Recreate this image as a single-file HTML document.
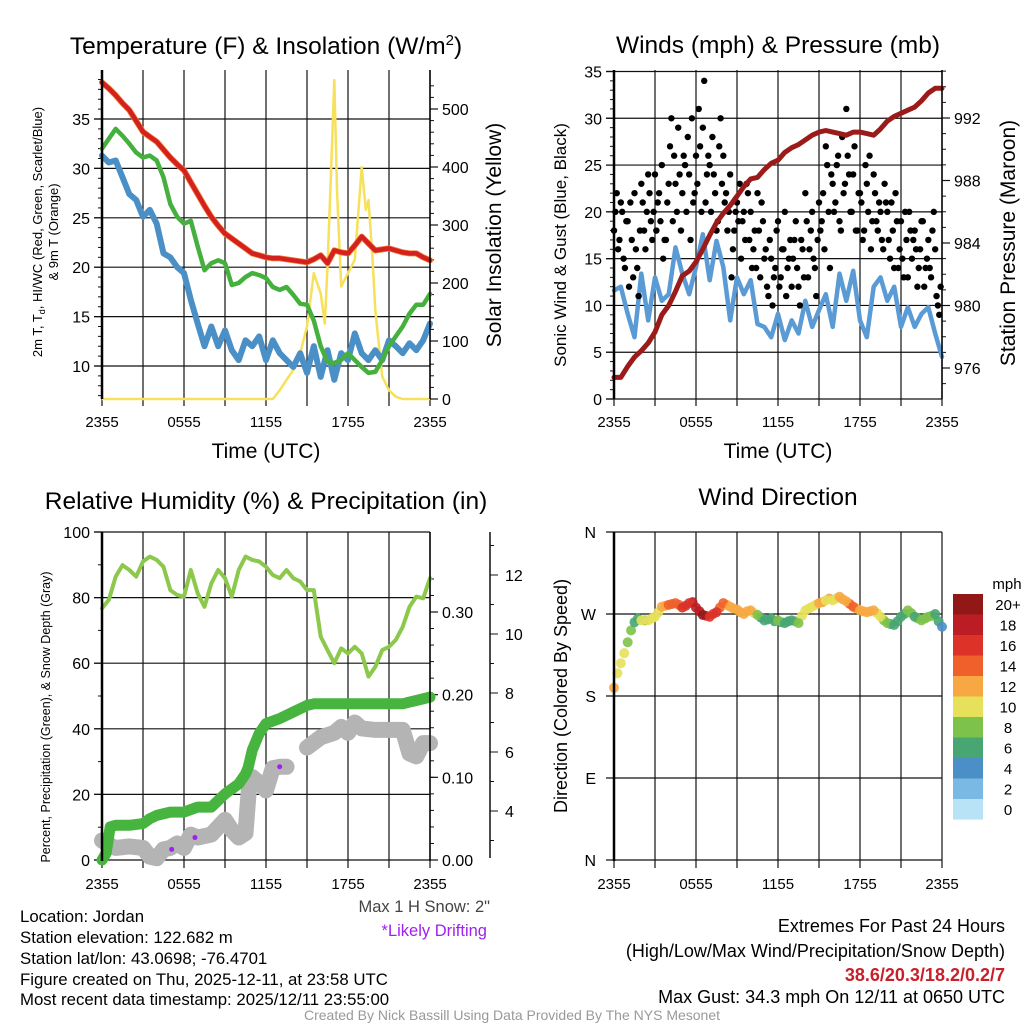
<!DOCTYPE html>
<html><head><meta charset="utf-8"><style>
body{margin:0;background:#fff;}
svg{display:block;font-family:"Liberation Sans",sans-serif;}
</style></head><body>
<svg id="fig" width="1024" height="1024" viewBox="0 0 1024 1024" xmlns="http://www.w3.org/2000/svg">
<rect width="1024" height="1024" fill="#fff"/>
<g id="g"></g>
<text x="266" y="54" font-size="24.5" text-anchor="middle">Temperature (F) &amp; Insolation (W/m<tspan dy="-9" font-size="15">2</tspan><tspan dy="9">)</tspan></text>
<text x="778" y="53" font-size="24.5" text-anchor="middle">Winds (mph) &amp; Pressure (mb)</text>
<text x="266" y="509" font-size="24.5" text-anchor="middle">Relative Humidity (%) &amp; Precipitation (in)</text>
<text x="778" y="505" font-size="24.5" text-anchor="middle">Wind Direction</text>
<text x="266" y="458" font-size="21" text-anchor="middle">Time (UTC)</text>
<text x="778" y="458" font-size="21" text-anchor="middle">Time (UTC)</text>
<text transform="translate(42,232) rotate(-90)" font-size="13" text-anchor="middle">2m T, T<tspan font-size="9" dy="3">d</tspan><tspan dy="-3">, HI/WC (Red, Green, Scarlet/Blue)</tspan></text>
<text transform="translate(58,232) rotate(-90)" font-size="13" text-anchor="middle">&amp; 9m T (Orange)</text>
<text transform="translate(501,235) rotate(-90)" font-size="21" text-anchor="middle">Solar Insolation (Yellow)</text>
<text transform="translate(566,245) rotate(-90)" font-size="17" text-anchor="middle">Sonic Wind &amp; Gust (Blue, Black)</text>
<text transform="translate(1015,243) rotate(-90)" font-size="21" text-anchor="middle">Station Pressure (Maroon)</text>
<text transform="translate(50,717) rotate(-90)" font-size="12.5" text-anchor="middle">Percent, Precipitation (Green), &amp; Snow Depth (Gray)</text>
<text transform="translate(567,696) rotate(-90)" font-size="18" text-anchor="middle">Direction (Colored By Speed)</text>
<text x="1007" y="589" font-size="15" text-anchor="middle">mph</text>
<text x="490" y="912" font-size="16.5" text-anchor="end" fill="#444">Max 1 H Snow: 2"</text>
<text x="487" y="936" font-size="16.5" text-anchor="end" fill="#a020f0">*Likely Drifting</text>
<g font-size="16.8">
<text x="20" y="922">Location: Jordan</text>
<text x="20" y="943">Station elevation: 122.682 m</text>
<text x="20" y="964">Station lat/lon: 43.0698; -76.4701</text>
<text x="20" y="985">Figure created on Thu, 2025-12-11, at 23:58 UTC</text>
<text x="20" y="1005">Most recent data timestamp: 2025/12/11 23:55:00</text>
</g>
<g font-size="18" text-anchor="end">
<text x="1005" y="932">Extremes For Past 24 Hours</text>
<text x="1005" y="957">(High/Low/Max Wind/Precipitation/Snow Depth)</text>
<text x="1005" y="981" fill="#c8202a" font-weight="bold">38.6/20.3/18.2/0.2/7</text>
<text x="1005" y="1003">Max Gust: 34.3 mph On 12/11 at 0650 UTC</text>
</g>
<text x="512" y="1020" font-size="14" fill="#999" text-anchor="middle">Created By Nick Bassill Using Data Provided By The NYS Mesonet</text>
</svg>
<script>
const halfHours = Array.from({length:49},(_, i)=>i*0.5);
const quarterOffsets = Array.from({length:48},(_, i)=>i*0.5+0.25);
const tempRed = [38.7,38.1,37.4,36.6,35.9,34.8,33.7,33.2,32.7,31.9,31.1,30.4,29.8,28.6,27.4,26.2,25.1,24.2,23.4,22.9,22.4,21.9,21.4,21.2,21.0,20.9,20.9,20.8,20.7,20.6,20.5,20.8,21.2,20.4,21.7,21.5,21.4,22.2,23.1,22.4,21.7,21.8,21.9,21.7,21.5,21.4,21.4,21.0,20.7];
const tempGreen = [32.0,33.0,34.0,33.3,32.5,31.6,31.1,31.3,30.8,29.1,26.4,25.1,24.4,24.7,22.1,19.7,20.4,20.7,20.4,18.2,18.4,19.0,19.4,19.2,18.9,18.0,17.7,18.0,17.2,16.3,16.2,14.6,12.0,10.4,10.3,10.6,11.3,10.6,9.9,9.3,9.4,10.6,12.0,13.0,14.0,15.3,16.2,16.2,17.3];
const tempBlue = [31.3,30.6,30.8,29.1,27.4,26.8,25.1,25.8,24.4,21.4,21.0,20.0,19.4,16.7,14.3,12.0,14.0,12.0,13.6,11.6,10.6,12.6,12.0,13.0,10.6,12.6,11.3,10.6,9.9,11.3,9.3,12.0,8.9,11.6,8.6,11.3,10.6,13.3,11.3,10.6,11.6,10.6,12.6,12.0,11.3,12.3,11.6,12.6,14.3];
const solarTimes = [0,12.5,13,13.5,14,14.5,15,15.5,16,16.3,16.5,16.8,17,17.2,17.5,18,18.5,19,19.3,19.5,19.8,20,20.5,21,21.5,22,24];
const solarVals = [0,0,15,33,50,79,125,217,182,130,228,418,550,355,194,217,240,400,326,343,240,153,39,15,4,0,0];
const windSonic = [11.6,12.0,9.1,6.6,13.4,8.4,13.0,10.5,11.2,16.2,13.4,11.2,14.1,17.6,12.7,16.9,14.1,8.4,13.0,11.2,12.7,8.0,7.7,6.6,9.1,6.3,8.4,7.0,10.5,7.7,9.5,11.2,7.7,13.4,10.5,13.7,8.4,6.6,12.0,13.0,10.5,12.0,7.7,9.8,7.7,9.1,9.8,7.0,4.5];
const pressure = [975.4,975.4,976.1,976.7,977.1,977.6,978.3,979.4,980.0,980.9,981.9,982.2,982.8,983.6,984.5,985.3,985.9,986.4,987.0,987.6,988.1,988.2,988.7,989.1,989.3,989.8,990.1,990.3,990.6,990.9,991.1,991.2,991.1,991.0,990.9,991.1,991.1,991.0,990.9,991.3,991.8,992.1,992.3,992.5,992.7,993.1,993.6,993.9,993.9];
const gustA = [18,22,17,20,14,19,21,13,16,11,23,18,20,22,17,24,21,19,15,17,23,30,26,20,24,22,25,28,17,21,26,31,20,34,24,25,28,22,19,30,26,22,20,13,18,21,23,19,17,22,20,16,14,18,21,15,12,17,10,14,19,13,16,11,15,12,17,14,10,16,22,13,18,15,11,21,19,16,25,14,23,21,26,18,22,31,24,20,27,18,22,17,25,20,16,24,19,21,17,23,20,15,18,22,14,19,13,17,20,15,18,12,16,19,14,17,13,20,11,9];
const gustB = [20,16,21,15,19,12,17,22,14,18,21,16,24,19,20,18,22,25,17,21,27,19,23,29,18,26,20,24,30,22,23,27,29,21,26,20,24,18,27,23,21,18,24,16,20,19,15,20,23,17,14,18,22,13,19,16,11,15,13,18,12,16,20,14,17,15,19,12,17,13,19,16,20,14,17,18,22,27,20,24,20,25,19,28,23,26,20,24,18,22,21,18,23,26,19,22,18,20,16,21,17,21,14,19,16,15,20,13,18,17,16,14,19,12,15,14,18,16,10,12];
const gustStep = 0.2;
const rh = [76.7,79.3,86.4,89.9,88.4,86.4,91.0,92.5,91.5,89.4,82.3,80.8,80.3,88.4,81.3,77.2,84.3,88.4,85.9,80.3,88.4,92.5,91.5,91.0,89.4,86.9,85.9,88.4,85.9,84.9,82.3,82.3,68.1,64.0,60.0,64.5,63.0,65.0,63.0,55.9,58.9,64.0,65.0,67.1,71.1,77.2,80.3,79.8,85.9];
const precipTimes = [0,0.3,0.6,1,2,3,3.5,4,5,6,7,8,8.5,9,9.5,10,10.5,10.7,11,11.5,12,13,14,15,15.5,22,22.5,23,24];
const precipVals = [0,0.008,0.040,0.042,0.042,0.044,0.050,0.054,0.058,0.058,0.064,0.064,0.072,0.080,0.086,0.092,0.104,0.112,0.133,0.153,0.165,0.171,0.179,0.187,0.189,0.189,0.191,0.193,0.197];
const snowTimes = [0,0.5,1,2,3,3.5,4,4.5,5,5.5,6,6.5,7,7.5,8,8.5,9,9.5,10,10.5,10.8,11,11.5,12,12.5,13,13.5,14,15,16,17,17.5,18,18.5,19,20,21,22,22.5,23,23.5,24];
const snowVals = [3.0,2.85,2.75,2.8,2.75,2.45,2.4,2.7,2.75,2.9,2.75,3.2,3.1,3.15,3.2,3.45,3.7,3.35,3.1,3.25,5.05,5.15,4.95,4.7,5.45,5.5,5.5,null,6.15,6.5,6.65,6.85,6.65,7.0,6.8,6.75,6.75,6.75,5.95,5.85,6.3,6.3];
const driftTimes = [5.1,6.8,13.0];
const driftVals = [2.7,3.1,5.5];
const dirVals = [189,216,239,261,263,263,267,278,280,282,277,282,277,269,267,272,282,278,275,270,274,269,263,265,263,260,263,260,274,278,282,285,285,289,284,278,274,272,274,267,260,258,267,274,267,263,267,270,256];
const dirSpeeds = [12,11,9,7,10,10,10,12,14,15,16,17,18,20,17,16,14,13,12,12,13,8,7,7,8,6,7,9,10,11,12,11,10,12,13,14,12,13,12,11,8,7,6,8,7,9,8,7,4];
const dirValsB = [205,227,252,265,263,265,272,279,281,280,279,283,273,268,270,277,280,276,272,273,271,266,264,262,261,262,262,268,276,280,283,287,287,286,281,276,273,273,271,263,259,262,270,271,265,265,268,262];
const dirSpeedsB = [11,10,8,7,9,10,11,13,15,15,17,18,19,16,16,15,13,12,13,12,10,7,7,6,7,7,8,10,10,11,12,12,11,13,14,13,12,13,11,9,7,6,7,8,8,9,8,6];
const cbLabels = ["20+","18","16","14","12","10","8","6","4","2","0"];
const cbColors = ["#921818","#bc1c24","#dc3228","#f0602a","#f7a843","#e6e05a","#7dc24a","#48a673","#4a8fc6","#7ab9e4","#b8e2f6"];
const timeLabels = ["2355","0555","1155","1755","2355"];

const NS="http://www.w3.org/2000/svg";
const G=document.getElementById('g');
function mk(tag,attrs,parent){const e=document.createElementNS(NS,tag);for(const k in attrs)e.setAttribute(k,attrs[k]);(parent||G).appendChild(e);return e;}
function txt(x,y,s,size,anchor,parent){const t=mk('text',{x:x,y:y,'font-size':size,'text-anchor':anchor},parent);t.textContent=s;return t;}
function lin(d0,d1,p0,p1){return v=>p0+(v-d0)*(p1-p0)/(d1-d0);}
function pathFrom(xs,ys,sx,sy){let d='',pen=false;for(let i=0;i<xs.length;i++){if(ys[i]===null){pen=false;continue;}d+=(pen?'L':'M')+sx(xs[i]).toFixed(1)+','+sy(ys[i]).toFixed(1);pen=true;}return d;}
function speedColor(s){const idx=Math.min(10,Math.floor(s/2));return cbColors[10-idx];}

function frame(px,py,name){
  const grp=mk('g',{});
  
  
  for(let i=0;i<=8;i++){const x=px+i*41;mk('line',{x1:x,y1:py,x2:x,y2:py+328,stroke:'#111','stroke-width':1.2},grp);mk('line',{x1:x,y1:py+328,x2:x,y2:py+336,stroke:'#111','stroke-width':1.2},grp);}
  const xl=mk('g',{});
  
  
  timeLabels.forEach((s,i)=>txt(px+i*82,py+357,s,15,'middle',xl));
  return grp;
}
function hgrid(grp,px,ys){ys.forEach(y=>mk('line',{x1:px-8,y1:y,x2:px+328,y2:y,stroke:'#111','stroke-width':1.2},grp));}
function axisLabels(name,x,vals,sy,anchor,tickDir){
  const g=mk('g',{});
  
  
  vals.forEach(v=>{const y=sy(v);mk('line',{x1:x,y1:y,x2:x+tickDir*8,y2:y,stroke:'#111','stroke-width':1.2},g);txt(x+tickDir*12,y+6,String(v.label!==undefined?v.label:v),16,anchor,g);});
  return g;
}

/* ---------- Panel 1: temperature ---------- */
{
  const px=102,py=70;
  const sx=lin(0,24,px,px+328), sy=lin(10,35,366,119), ss=lin(0,500,399,109);
  const grp=frame(px,py,'temp');
  hgrid(grp,px,[10,15,20,25,30,35].map(sy));
  for(let v=7;v<=39;v++){if(v%5)mk('line',{x1:px-4,y1:sy(v),x2:px,y2:sy(v),stroke:'#111'},grp);}
  for(let v=0;v<=550;v+=20){mk('line',{x1:px+328,y1:ss(v),x2:px+332,y2:ss(v),stroke:'#111'},grp);}
  axisLabels('temp-y-tick-labels',px,[10,15,20,25,30,35],sy,'end',-1);
  axisLabels('solar-y-tick-labels',px+328,[0,100,200,300,400,500],ss,'start',1);
  const sol=mk('path',{d:pathFrom(solarTimes,solarVals,sx,ss),fill:'none',stroke:'#f7e15a','stroke-width':2.5,'stroke-linejoin':'round'});
  
  
  const b=mk('path',{d:pathFrom(halfHours,tempBlue,sx,sy),fill:'none',stroke:'#4a8fc6','stroke-width':6,'stroke-linejoin':'round','stroke-linecap':'round'});
  
  
  const gr=mk('path',{d:pathFrom(halfHours,tempGreen,sx,sy),fill:'none',stroke:'#46b03e','stroke-width':4.5,'stroke-linejoin':'round','stroke-linecap':'round'});
  
  
  const o=mk('path',{d:pathFrom(halfHours,tempRed,sx,sy),fill:'none',stroke:'#f08030','stroke-width':6,'stroke-linejoin':'round','stroke-linecap':'round'});
  
  
  const r=mk('path',{d:pathFrom(halfHours,tempRed,sx,sy),fill:'none',stroke:'#d42020','stroke-width':4.5,'stroke-linejoin':'round','stroke-linecap':'round'});
  
  
  mk('line',{x1:px,y1:py,x2:px,y2:py+329,stroke:'#000','stroke-width':2.5});
  mk('line',{x1:px+328,y1:py,x2:px+328,y2:py+329,stroke:'#000','stroke-width':1.5});
}

/* ---------- Panel 2: winds ---------- */
{
  const px=614,py=70;
  const sx=lin(0,24,px,px+328), sy=lin(0,35,399,71.5), sp=lin(976,992,368,118);
  const grp=frame(px,py,'wind');
  hgrid(grp,px,[0,5,10,15,20,25,30,35].map(sy));
  for(let v=1;v<=35;v++){if(v%5)mk('line',{x1:px-4,y1:sy(v),x2:px,y2:sy(v),stroke:'#111'},grp);}
  for(let v=975;v<=995;v++){mk('line',{x1:px+328,y1:sp(v),x2:px+332,y2:sp(v),stroke:'#111'},grp);}
  axisLabels('wind-y-tick-labels',px,[0,5,10,15,20,25,30,35],sy,'end',-1);
  axisLabels('pressure-y-tick-labels',px+328,[976,980,984,988,992],sp,'start',1);
  const b=mk('path',{d:pathFrom(halfHours,windSonic,sx,sy),fill:'none',stroke:'#5b9bd5','stroke-width':4.5,'stroke-linejoin':'round','stroke-linecap':'round'});
  
  
  const gd=mk('g',{fill:'#000'});
  
  
  gustA.forEach((v,i)=>{const c=mk('circle',{cx:sx(i*gustStep),cy:sy(v),r:3.2},gd);});
  gustB.forEach((v,i)=>{const c=mk('circle',{cx:sx(i*gustStep+0.1),cy:sy(v),r:3.2},gd);});
  const p=mk('path',{d:pathFrom(halfHours,pressure,sx,sp),fill:'none',stroke:'#9b1b1b','stroke-width':5,'stroke-linejoin':'round','stroke-linecap':'round'});
  
  
  mk('line',{x1:px,y1:py,x2:px,y2:py+329,stroke:'#000','stroke-width':2.5});
  mk('line',{x1:px+328,y1:py,x2:px+328,y2:py+329,stroke:'#000','stroke-width':1.5});
}

/* ---------- Panel 3: RH ---------- */
{
  const px=102,py=532;
  const sx=lin(0,24,px,px+328), sy=lin(0,100,860,532), spr=lin(0,0.3,860,612), ssn=lin(0,12,929,575);
  const grp=frame(px,py,'rh');
  hgrid(grp,px,[0,20,40,60,80,100].map(sy));
  for(let v=10;v<100;v+=20)mk('line',{x1:px-4,y1:sy(v),x2:px,y2:sy(v),stroke:'#111'},grp);
  for(let v=0;v<=0.36;v+=0.02)mk('line',{x1:px+328,y1:spr(v),x2:px+332,y2:spr(v),stroke:'#111'},grp);
  axisLabels('rh-y-tick-labels',px,[0,20,40,60,80,100],sy,'end',-1);
  axisLabels('precip-y-tick-labels',px+328,[{v:0,label:'0.00'},{v:0.1,label:'0.10'},{v:0.2,label:'0.20'},{v:0.3,label:'0.30'}].map(o=>({valueOf(){return o.v},label:o.label})),v=>spr(+v),'start',1);
  const sa=mk('g',{});
  
  
  mk('line',{x1:490,y1:532,x2:490,y2:858,stroke:'#111','stroke-width':1.5},sa);
  for(let v=3;v<=13;v++)mk('line',{x1:490,y1:ssn(v),x2:494,y2:ssn(v),stroke:'#111'},sa);
  [4,6,8,10,12].forEach(v=>{mk('line',{x1:490,y1:ssn(v),x2:498,y2:ssn(v),stroke:'#111'},sa);txt(505,ssn(v)+6,String(v),16,'start',sa);});
  const s=mk('path',{d:pathFrom(snowTimes,snowVals,sx,ssn),fill:'none',stroke:'#b4b4b4','stroke-width':16,'stroke-linejoin':'round','stroke-linecap':'round'});
  
  
  driftTimes.forEach((t,i)=>{const c=mk('circle',{cx:sx(t),cy:ssn(driftVals[i]),r:2.5,fill:'#a020f0'});});
  const pr=mk('path',{d:pathFrom(precipTimes,precipVals,sx,spr),fill:'none',stroke:'#46b43e','stroke-width':11,'stroke-linejoin':'round','stroke-linecap':'round'});
  
  
  const r=mk('path',{d:pathFrom(halfHours,rh,sx,sy),fill:'none',stroke:'#8cc84b','stroke-width':4,'stroke-linejoin':'round','stroke-linecap':'round'});
  
  
  mk('line',{x1:px,y1:py,x2:px,y2:py+329,stroke:'#000','stroke-width':2.5});
  mk('line',{x1:px+328,y1:py,x2:px+328,y2:py+329,stroke:'#000','stroke-width':1.5});
}

/* ---------- Panel 4: direction ---------- */
{
  const px=614,py=532;
  const sx=lin(0,24,px,px+328), sy=lin(0,360,860,532);
  const grp=frame(px,py,'direction');
  hgrid(grp,px,[0,90,180,270,360].map(sy));
  const dl=mk('g',{});
  
  
  [['N',0],['E',90],['S',180],['W',270],['N',360]].forEach(a=>txt(px-18,sy(a[1])+6,a[0],16,'end',dl));
  const dg=mk('g',{'fill-opacity':0.9});
  
  
  dirValsB.forEach((d,i)=>{const c=mk('circle',{cx:sx(quarterOffsets[i]),cy:sy(d),r:5,fill:speedColor(dirSpeedsB[i])},dg);});
  dirVals.forEach((d,i)=>{const c=mk('circle',{cx:sx(halfHours[i]),cy:sy(d),r:5,fill:speedColor(dirSpeeds[i])},dg);});
  mk('line',{x1:px,y1:py,x2:px,y2:py+329,stroke:'#000','stroke-width':2.5});
  const cb=mk('g',{});
  
  
  cbColors.forEach((c,i)=>{mk('rect',{x:953,y:594+i*20.5,width:30,height:20.6,fill:c},cb);txt(1008,594+i*20.5+16,cbLabels[i],15,'middle',cb);});
}
</script>
</body></html>
